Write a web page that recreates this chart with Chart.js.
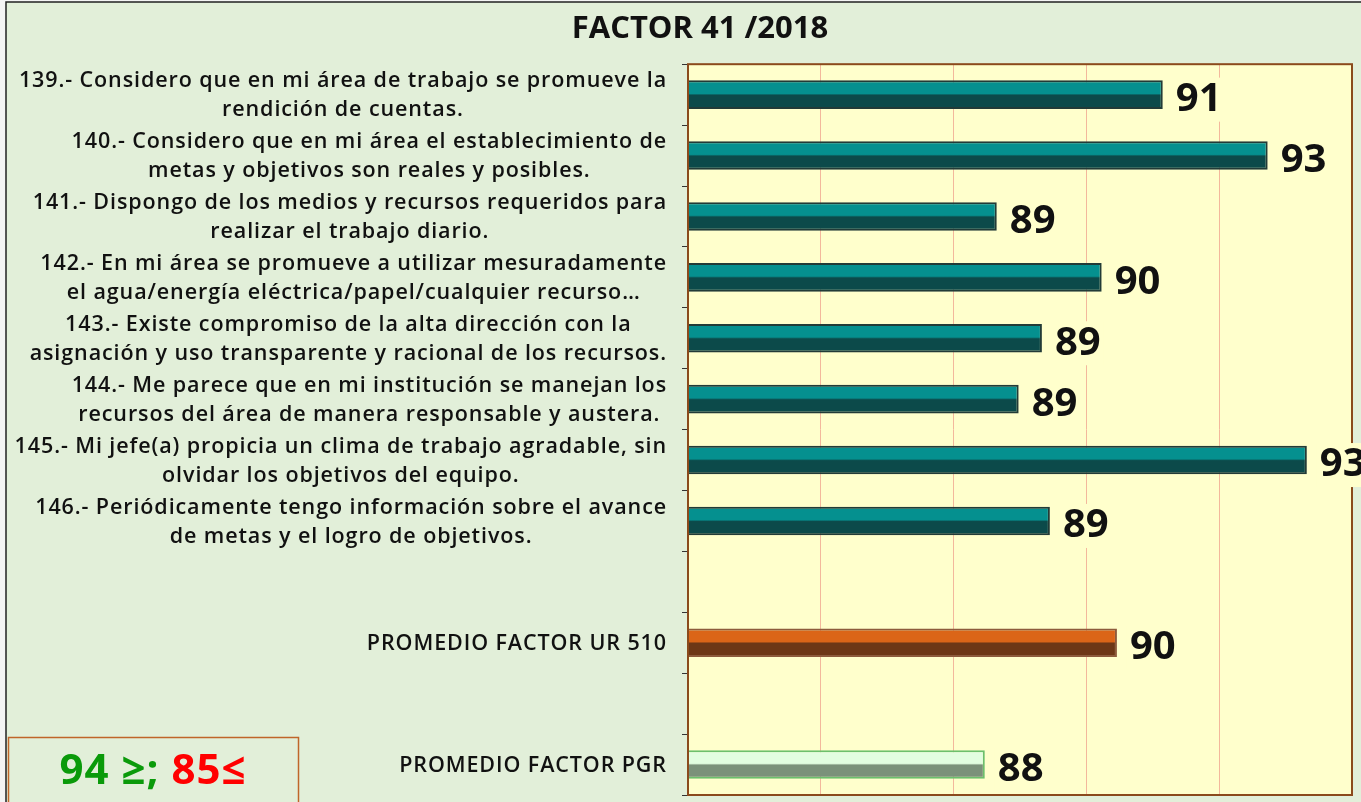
<!DOCTYPE html>
<html>
<head>
<meta charset="utf-8">
<script src="https://cdn.jsdelivr.net/npm/chart.js@4.4.1/dist/chart.umd.min.js"></script>
<style>
  html, body { margin: 0; padding: 0; background: #f4f4f4; }
  #wrap { position: relative; width: 1361px; height: 802px; }
</style>
</head>
<body>
<div id="wrap"><canvas id="factor" width="1361" height="802"></canvas></div>
<script>
var categories = [
  ["139.- Considero que en mi área de trabajo se promueve la", "rendición de cuentas."],
  ["140.- Considero que en mi área el establecimiento de", "metas y objetivos son reales y posibles."],
  ["141.- Dispongo de los medios y recursos requeridos para", "realizar el trabajo diario."],
  ["142.- En mi área se promueve a utilizar mesuradamente", "el agua/energía eléctrica/papel/cualquier recurso…"],
  ["143.- Existe compromiso de la alta dirección con la", "asignación y uso transparente y racional de los recursos."],
  ["144.- Me parece que en mi institución se manejan los", "recursos del área de manera responsable y austera."],
  ["145.- Mi jefe(a) propicia un clima de trabajo agradable, sin", "olvidar los objetivos del equipo."],
  ["146.- Periódicamente tengo información sobre el avance", "de metas y el logro de objetivos."],
  "",
  "PROMEDIO FACTOR UR 510",
  "",
  "PROMEDIO FACTOR PGR"
];
var values = [91.15, 92.73, 88.65, 90.23, 89.33, 88.98, 93.32, 89.45, null, 90.46, null, 88.47];
var axisMin = 84;
var axisMax = 94;
var gridStep = 2;

var urIndex = categories.indexOf("PROMEDIO FACTOR UR 510");
var pgrIndex = categories.indexOf("PROMEDIO FACTOR PGR");

var teal = { top: "#05908f", bottom: "#0c4a4a", border: "#223b37" };
var orange = { top: "#db6518", bottom: "#6d3716", border: "#8d5b3c" };
var pale = { top: "#e2fde0", bottom: "#7b917a", border: "#6cbf6c" };
var BAR_PCT = 0.47;
var FONT = "'Open Sans', Lato, sans-serif";

function paletteFor(i) {
  if (i === urIndex) return orange;
  if (i === pgrIndex) return pale;
  return teal;
}

function barFill(c) {
  var p = paletteFor(c.dataIndex);
  var chart = c.chart;
  var ys = chart.scales.y;
  if (!ys || !chart.chartArea) return p.top;
  var cy = ys.getPixelForValue(c.dataIndex);
  var h = (ys.height / categories.length) * BAR_PCT;
  var g = chart.ctx.createLinearGradient(0, cy - h / 2, 0, cy + h / 2);
  g.addColorStop(0, p.border);
  g.addColorStop(0.08, p.top);
  g.addColorStop(0.46, p.top);
  g.addColorStop(0.52, p.bottom);
  g.addColorStop(1, p.bottom);
  return g;
}

var framePlugin = {
  id: "frame",
  beforeDraw: function(chart) {
    var ctx = chart.ctx, a = chart.chartArea;
    ctx.save();
    ctx.fillStyle = "#f4f4f4";
    ctx.fillRect(0, 0, chart.width, chart.height);
    ctx.fillStyle = "#e2efd9";
    ctx.fillRect(6, 2, chart.width - 6, chart.height - 2);
    ctx.strokeStyle = "#222";
    ctx.lineWidth = 1.5;
    ctx.beginPath();
    ctx.moveTo(6, chart.height);
    ctx.lineTo(6, 2);
    ctx.lineTo(chart.width, 2);
    ctx.stroke();
    ctx.fillStyle = "#ffffcc";
    ctx.fillRect(a.left, a.top, a.right - a.left, a.bottom - a.top);
    ctx.restore();
  },
  afterDatasetsDraw: function(chart) {
    var ctx = chart.ctx, a = chart.chartArea;
    ctx.save();
    ctx.strokeStyle = "#8b4a1c";
    ctx.lineWidth = 2;
    ctx.strokeRect(a.left, a.top, a.right - a.left, a.bottom - a.top);
    ctx.restore();
  },
  afterDraw: function(chart) {
    var ctx = chart.ctx, a = chart.chartArea;
    var ys = chart.scales.y;
    var meta = chart.getDatasetMeta(0);
    ctx.save();

    // value labels
    ctx.font = "bold 40px " + FONT;
    ctx.textBaseline = "middle";
    ctx.textAlign = "left";
    meta.data.forEach(function(el, i) {
      if (values[i] == null) return;
      var txt = String(Math.round(values[i]));
      var x = el.x + 13, y = el.y + 5;
      var w = ctx.measureText(txt).width;
      ctx.fillStyle = "#ffffcc";
      ctx.fillRect(x - 3, y - 22, w + 6, 44);
      ctx.fillStyle = "#111";
      ctx.fillText(txt, x, y);
    });

    // category labels: block right-aligned, lines centred
    ctx.font = "600 21.5px " + FONT;
    ctx.letterSpacing = "0.9px";
    ctx.fillStyle = "#111";
    ctx.textAlign = "center";
    var rightEdge = a.left - 21;
    var lh = 29;
    categories.forEach(function(lab, i) {
      var lines = Array.isArray(lab) ? lab : [lab];
      if (!lines[0]) return;
      var wmax = 0;
      lines.forEach(function(l) { wmax = Math.max(wmax, ctx.measureText(l).width); });
      var cx = rightEdge - wmax / 2;
      var cy = ys.getPixelForValue(i) + 1;
      lines.forEach(function(l, k) {
        ctx.fillText(l, cx, cy + (k - (lines.length - 1) / 2) * lh);
      });
    });

    // goal box
    ctx.letterSpacing = "1px";
    ctx.strokeStyle = "#c0652a";
    ctx.lineWidth = 1.5;
    ctx.strokeRect(8.5, 737.5, 290, 80);
    ctx.font = "bold 42px " + FONT;
    ctx.textAlign = "left";
    var p1 = "94 ≥; ", p2 = "85≤";
    var w1 = ctx.measureText(p1).width, w2 = ctx.measureText(p2).width;
    var sx = 153 - (w1 + w2) / 2;
    ctx.fillStyle = "#0a9a0a";
    ctx.fillText(p1, sx, 772);
    ctx.fillStyle = "#ff0000";
    ctx.fillText(p2, sx + w1, 772);
    ctx.restore();
  }
};

var ctx = document.getElementById("factor");
var factorChart = new Chart(ctx, {
  type: "bar",
  data: {
    labels: categories,
    datasets: [{
      data: values,
      backgroundColor: barFill,
      borderColor: function(c) { return paletteFor(c.dataIndex).border; },
      borderWidth: 2,
      borderSkipped: false,
      barPercentage: BAR_PCT,
      categoryPercentage: 1
    }]
  },
  options: {
    indexAxis: "y",
    responsive: false,
    animation: false,
    devicePixelRatio: 1,
    layout: { padding: { left: 48, right: 9, top: 0, bottom: 7 } },
    plugins: {
      legend: { display: false },
      tooltip: { enabled: false },
      title: {
        display: true,
        text: "FACTOR 41 /2018",
        color: "#111",
        font: { family: FONT, size: 31, weight: "bold" },
        padding: { top: 11, bottom: 16 }
      }
    },
    scales: {
      x: {
        min: axisMin,
        max: axisMax,
        ticks: { display: false, stepSize: gridStep },
        grid: { color: "#f3b89c", lineWidth: 1, drawTicks: false },
        border: { display: false },
        afterFit: function(scale) { scale.height = 0; }
      },
      y: {
        ticks: { display: false },
        grid: { offset: true, drawOnChartArea: false, drawTicks: true, tickLength: 6, color: "#333" },
        border: { display: false },
        afterFit: function(scale) { scale.width = 640; }
      }
    }
  },
  plugins: [framePlugin]
});
</script>
</body>
</html>
